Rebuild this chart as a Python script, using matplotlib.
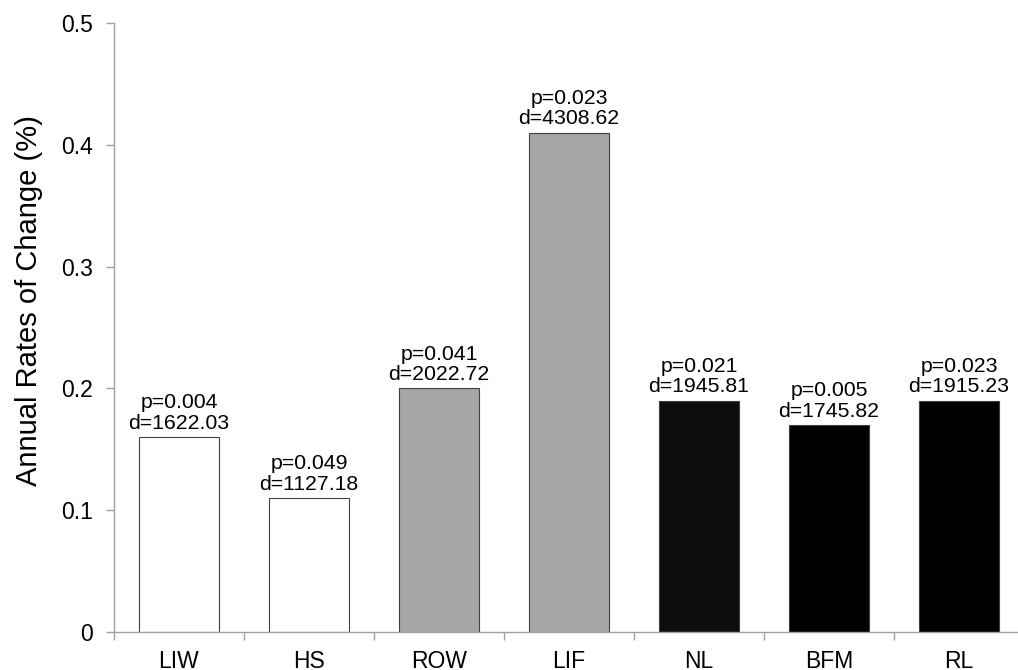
import matplotlib.pyplot as plt
import numpy as np

plt.rcParams['font.family'] = ['Liberation Sans', 'DejaVu Sans']

sites = ["LIW", "HS", "ROW", "LIF", "NL", "BFM", "RL"]
rates = [0.16, 0.11, 0.20, 0.41, 0.19, 0.17, 0.19]
p_values = ["0.004", "0.049", "0.041", "0.023", "0.021", "0.005", "0.023"]
d_values = ["1622.03", "1127.18", "2022.72", "4308.62", "1945.81", "1745.82", "1915.23"]
bar_colors = ["white", "white", "#a6a6a6", "#a6a6a6", "#0d0d0d", "black", "black"]
yticks = [0, 0.1, 0.2, 0.3, 0.4, 0.5]
ytick_labels = ["0", "0.1", "0.2", "0.3", "0.4", "0.5"]

fig = plt.figure(figsize=(10.18, 6.70), dpi=100)
# axis runs slightly past the right edge of the figure
ax = fig.add_axes([114 / 1018, 38 / 670, 910 / 1018, 609 / 670])

x = np.arange(len(sites))
bars = ax.bar(x, rates, width=0.62, color=bar_colors, edgecolor="#404040", linewidth=0.8)

for xi, r, p, d in zip(x, rates, p_values, d_values):
    ax.annotate(f"p={p}\nd={d}", (xi, r), xytext=(0, 3), textcoords="offset points",
                ha="center", va="bottom", fontsize=15.3, linespacing=1.1)

ax.set_xlim(-0.5, len(sites) - 0.5)
ax.set_ylim(0, 0.5)
ax.set_yticks(yticks)
ax.set_yticklabels(ytick_labels)

# category labels in the middle, tick marks between categories
ax.set_xticks(x)
ax.set_xticklabels(sites)
ax.set_xticks(np.arange(len(sites) + 1) - 0.5, minor=True)
ax.tick_params(axis="x", which="major", length=0, pad=13, labelsize=16.5)
ax.tick_params(axis="x", which="minor", length=6, width=1, color="#a0a0a0")
ax.tick_params(axis="y", length=6, width=1, color="#a0a0a0", pad=9, labelsize=16.5)

for side in ["top", "right"]:
    ax.spines[side].set_visible(False)
for side in ["left", "bottom"]:
    ax.spines[side].set_color("#a0a0a0")
    ax.spines[side].set_linewidth(1)

ax.set_ylabel("Annual Rates of Change (%)", fontsize=21, va="center")
ax.yaxis.set_label_coords(-0.093, 0.545)

fig.savefig("out.png", dpi=100)
